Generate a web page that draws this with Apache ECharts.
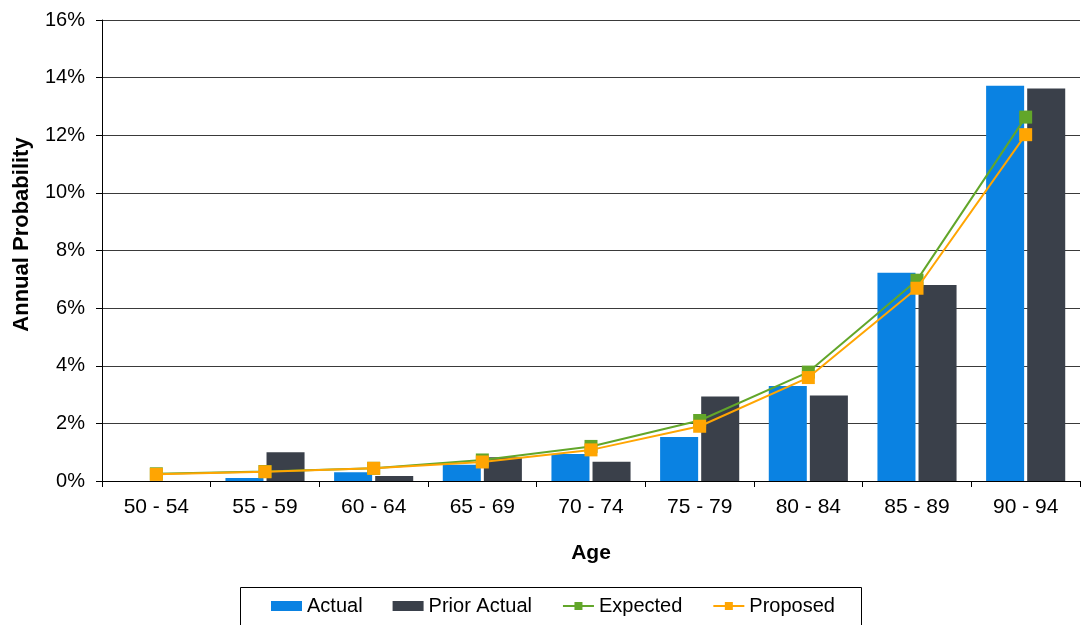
<!DOCTYPE html>
<html>
<head>
<meta charset="utf-8">
<script src="https://cdn.jsdelivr.net/npm/echarts@6/dist/echarts.min.js"></script>
<style>
  html, body { margin: 0; padding: 0; background: #fff; }
  #chart { width: 1081px; height: 625px; }
</style>
</head>
<body>
<div id="chart"></div>
<script>
// Age bands
const ageBands = ['50 - 54', '55 - 59', '60 - 64', '65 - 69', '70 - 74', '75 - 79', '80 - 84', '85 - 89', '90 - 94'];
// Annual probability, in percent
const actual      = [0.0, 0.10, 0.30, 0.56, 0.94, 1.53, 3.30, 7.23, 13.72];
const priorActual = [0.0, 1.00, 0.17, 0.82, 0.67, 2.93, 2.97, 6.80, 13.62];
const expected    = [0.25, 0.33, 0.44, 0.73, 1.20, 2.10, 3.78, 6.97, 12.63];
const proposed    = [0.23, 0.32, 0.44, 0.66, 1.08, 1.90, 3.59, 6.69, 12.02];
// Y axis range (percent)
const yMin = 0, yMax = 16, yStep = 2;

const FONT = '"Liberation Sans", Arial, sans-serif';
const BLUE = '#0A82E2', DARK = '#3A404A', GREEN = '#62A62A', ORANGE = '#FFA502';

const chart = echarts.init(document.getElementById('chart'), null, { renderer: 'canvas' });

chart.setOption({
  animation: false,
  backgroundColor: '#ffffff',
  textStyle: { fontFamily: FONT },
  grid: { left: 102, right: 1, top: 20, bottom: 144, containLabel: false, outerBoundsMode: 'none' },
  xAxis: {
    type: 'category',
    data: ageBands,
    name: 'Age',
    nameLocation: 'middle',
    nameGap: 62,
    nameTextStyle: { fontFamily: FONT, fontSize: 21, fontWeight: 'bold', color: '#000' },
    axisLine: { lineStyle: { color: '#000', width: 1 } },
    axisTick: { show: true, length: 6, lineStyle: { color: '#000' } },
    axisLabel: { fontFamily: FONT, fontSize: 21, color: '#000', margin: 16 },
    splitLine: { show: false }
  },
  yAxis: {
    type: 'value',
    min: yMin, max: yMax, interval: yStep,
    name: 'Annual Probability',
    nameLocation: 'middle',
    nameGap: 69,
    nameRotate: 90,
    nameTextStyle: { fontFamily: FONT, fontSize: 22, fontWeight: 'bold', color: '#000', padding: [0, 0, 0, 32] },
    axisLine: { show: true, lineStyle: { color: '#000', width: 1 } },
    axisTick: { show: true, length: 6, lineStyle: { color: '#000' } },
    axisLabel: { fontFamily: FONT, fontSize: 20, color: '#000', margin: 17, formatter: '{value}%' },
    splitLine: { show: true, lineStyle: { color: '#3a3a3a', width: 1 } }
  },
  legend: {
    left: 271, top: 596,
    padding: 0,
    itemGap: 30,
    itemWidth: 31,
    itemHeight: 10,
    textStyle: { fontFamily: FONT, fontSize: 20, color: '#000', padding: [0, 0, 0, 0] },
    data: [
      { name: 'Actual', icon: 'rect' },
      { name: 'Prior Actual', icon: 'rect' },
      { name: 'Expected' },
      { name: 'Proposed' }
    ]
  },
  graphic: [{
    type: 'rect',
    shape: { x: 240.5, y: 587.5, width: 621, height: 50 },
    style: { fill: 'none', stroke: '#000', lineWidth: 1 },
    silent: true,
    z: -1
  }],
  series: [
    {
      name: 'Actual', type: 'bar', data: actual,
      barWidth: '35%', barGap: '8%',
      itemStyle: { color: BLUE }
    },
    {
      name: 'Prior Actual', type: 'bar', data: priorActual,
      barWidth: '35%', barGap: '8%',
      itemStyle: { color: DARK }
    },
    {
      name: 'Expected', type: 'line', data: expected,
      symbol: 'rect', symbolSize: 13, showAllSymbol: true,
      lineStyle: { color: GREEN, width: 2 },
      itemStyle: { color: GREEN },
      z: 3
    },
    {
      name: 'Proposed', type: 'line', data: proposed,
      symbol: 'rect', symbolSize: 13, showAllSymbol: true,
      lineStyle: { color: ORANGE, width: 2 },
      itemStyle: { color: ORANGE },
      z: 4
    }
  ]
});
</script>
</body>
</html>
